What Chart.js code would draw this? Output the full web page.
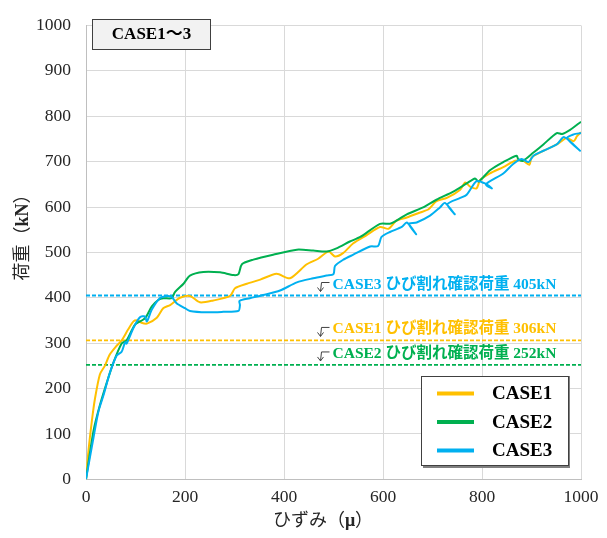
<!DOCTYPE html>
<html>
<head>
<meta charset="utf-8">
<script src="https://cdn.jsdelivr.net/npm/chart.js@4/dist/chart.umd.min.js"></script>
<style>
  html, body { margin: 0; padding: 0; background: #fff; }
  #wrap { width: 607px; height: 538px; }
</style>
</head>
<body>
<div id="wrap"><canvas id="myChart" width="607" height="538"></canvas></div>
<script>
// strain (μ) / load (kN)
const strainCase1 = [0, 5, 12, 18, 28, 38, 48, 60, 72, 85, 96, 104, 112, 123, 143, 156, 170, 190, 210, 230, 257, 291, 301, 325, 352, 385, 412, 446, 469, 490, 503, 520, 540, 567, 594, 611, 627, 648, 675, 692, 708, 729, 756, 766, 776, 789, 796, 816, 843, 867, 883, 896, 900, 917, 951, 971, 985, 992, 1000];
const loadCase1   = [0, 63, 130, 177, 231, 250, 275, 292, 306, 330, 348, 350, 345, 343, 356, 377, 384, 400, 404, 390, 394, 404, 421, 431, 440, 453, 443, 474, 486, 502, 491, 499, 520, 538, 556, 552, 570, 577, 588, 595, 613, 620, 638, 654, 645, 641, 659, 674, 688, 702, 702, 693, 709, 720, 738, 752, 745, 756, 765];

const strainCase2 = [0, 15, 28, 42, 55, 72, 82, 99, 116, 122, 133, 146, 156, 173, 180, 197, 210, 237, 271, 298, 308, 315, 338, 378, 426, 459, 486, 506, 533, 554, 594, 614, 621, 648, 681, 708, 742, 769, 786, 793, 816, 843, 870, 873, 883, 904, 924, 951, 962, 978, 1000];
const loadCase2   = [0, 106, 163, 213, 256, 299, 306, 341, 352, 359, 381, 395, 399, 399, 413, 431, 449, 457, 456, 450, 452, 474, 484, 495, 506, 504, 502, 509, 524, 534, 563, 563, 566, 584, 599, 616, 634, 652, 663, 656, 681, 699, 713, 706, 702, 720, 738, 763, 761, 770, 788];

const strainCase3 = [0, 15, 25, 35, 48, 62, 72, 79, 82, 96, 109, 119, 123, 133, 149, 163, 173, 183, 200, 210, 244, 277, 308, 311, 310, 331, 358, 392, 426, 459, 486, 500, 503, 520, 540, 574, 590, 597, 614, 638, 648, 667, 652, 668, 695, 715, 725, 745, 730, 756, 769, 789, 806, 820, 808, 843, 863, 880, 894, 904, 924, 951, 966, 998, 972, 985, 1000];
const loadCase3   = [0, 91, 149, 184, 234, 273, 281, 302, 299, 334, 357, 359, 348, 374, 399, 404, 402, 388, 377, 371, 368, 369, 371, 384, 393, 399, 406, 416, 434, 443, 449, 452, 470, 484, 495, 513, 514, 534, 545, 556, 566, 540, 563, 566, 581, 599, 609, 584, 606, 620, 627, 657, 652, 641, 650, 674, 695, 706, 699, 713, 724, 738, 754, 724, 752, 760, 763];

const caseNames  = ['CASE1', 'CASE2', 'CASE3'];
const caseColors = ['#FFC000', '#00B050', '#00B0F0'];
const crackLoads  = [306, 252, 405];
const crackLabels = ['CASE1 ひび割れ確認荷重 306kN', 'CASE2 ひび割れ確認荷重 252kN', 'CASE3 ひび割れ確認荷重 405kN'];
const labelStrain = 498;   // where the crack-load captions start

const serif = "'Liberation Serif', 'Noto Sans CJK JP', serif";

const toPoints = (xs, ys) => xs.map((x, i) => ({ x: x, y: ys[i] }));
const caseData = [toPoints(strainCase1, loadCase1), toPoints(strainCase2, loadCase2), toPoints(strainCase3, loadCase3)];

const datasets = [];
caseNames.forEach((name, i) => {
    datasets.push({
        label: name,
        data: caseData[i],
        borderColor: caseColors[i],
        backgroundColor: caseColors[i],
        borderWidth: 2,
        pointRadius: 0,
        showLine: true,
        tension: 0.25,
        order: 3 - i,
        isCase: true
    });
});
crackLoads.forEach((v, i) => {
    datasets.push({
        label: crackLabels[i],
        data: [{ x: 0, y: v }, { x: 1000, y: v }],
        borderColor: caseColors[i],
        borderWidth: 1.8,
        borderDash: [4, 2],
        pointRadius: 0,
        showLine: true,
        order: 5
    });
});

const decor = {
    id: 'decor',
    afterDraw(chart) {
        const ctx = chart.ctx;
        const xs = chart.scales.x, ys = chart.scales.y;
        ctx.save();

        // crack-load captions with little leader arrows
        crackLoads.forEach((v, i) => {
            const yLine = ys.getPixelForValue(v);
            const x0 = xs.getPixelForValue(labelStrain);
            ctx.strokeStyle = '#404040';
            ctx.lineWidth = 1;
            ctx.beginPath();
            ctx.moveTo(x0 - 3, yLine - 13);
            ctx.lineTo(x0 - 11, yLine - 13);
            ctx.lineTo(x0 - 12, yLine - 4);
            ctx.moveTo(x0 - 15, yLine - 8);
            ctx.lineTo(x0 - 12, yLine - 4);
            ctx.lineTo(x0 - 9, yLine - 8);
            ctx.stroke();
            ctx.fillStyle = caseColors[i];
            ctx.font = 'bold 15.5px ' + serif;
            ctx.textAlign = 'left';
            ctx.textBaseline = 'middle';
            ctx.fillText(crackLabels[i], x0, yLine - 11);
        });

        // title box
        ctx.fillStyle = '#f2f2f2';
        ctx.fillRect(92.5, 19.5, 118, 30);
        ctx.strokeStyle = '#404040';
        ctx.lineWidth = 1;
        ctx.strokeRect(92.5, 19.5, 118, 30);
        ctx.fillStyle = '#000';
        ctx.font = 'bold 17px ' + serif;
        ctx.textAlign = 'center';
        ctx.textBaseline = 'middle';
        ctx.fillText('CASE1～3', 151.5, 35);

        // legend box
        ctx.fillStyle = '#808080';
        ctx.fillRect(423, 376, 147, 92);
        ctx.fillStyle = '#fff';
        ctx.fillRect(421.5, 376.5, 147, 89);
        ctx.strokeStyle = '#404040';
        ctx.strokeRect(421.5, 376.5, 147, 89);
        chart.data.datasets.filter(d => d.isCase).forEach((d, i) => {
            const y = 393.5 + i * 28.5;
            ctx.strokeStyle = d.borderColor;
            ctx.lineWidth = 4;
            ctx.beginPath();
            ctx.moveTo(437, y);
            ctx.lineTo(474, y);
            ctx.stroke();
            ctx.fillStyle = '#000';
            ctx.font = 'bold 19px ' + serif;
            ctx.textAlign = 'left';
            ctx.textBaseline = 'middle';
            ctx.fillText(d.label, 492, y + 1);
        });

        // axis titles
        ctx.fillStyle = '#262626';
        ctx.textBaseline = 'middle';
        const parts = (list) => {
            let w = 0;
            list.forEach(p => { ctx.font = p[1]; w += ctx.measureText(p[0]).width; });
            return w;
        };
        const xt = [['ひずみ（', '18px ' + serif], ['μ', 'bold 18px ' + serif], ['）', '18px ' + serif]];
        let xw = parts(xt);
        let cx = 323 - xw / 2;
        ctx.textAlign = 'left';
        xt.forEach(p => { ctx.font = p[1]; ctx.fillText(p[0], cx, 521); cx += ctx.measureText(p[0]).width; });

        const yt = [['荷重（', '18px ' + serif], ['kN', 'bold 18px ' + serif], ['）', '18px ' + serif]];
        const yw = parts(yt);
        ctx.translate(23, 233);
        ctx.rotate(-Math.PI / 2);
        let cy = -yw / 2;
        yt.forEach(p => { ctx.font = p[1]; ctx.fillText(p[0], cy, 0); cy += ctx.measureText(p[0]).width; });
        ctx.restore();
    }
};

const ctx = document.querySelector('#myChart').getContext('2d');
const config = {
    type: 'scatter',
    data: { datasets: datasets },
    options: {
        responsive: false,
        animation: false,
        layout: { padding: { left: 0, right: 26, top: 12.7, bottom: 0 } },
        plugins: {
            legend: { display: false },
            title: { display: false },
            tooltip: { enabled: false }
        },
        scales: {
            x: {
                type: 'linear',
                min: 0,
                max: 1000,
                afterFit: (s) => { s.height = 58.7; },
                ticks: {
                    stepSize: 200,
                    padding: 8,
                    color: '#262626',
                    font: { family: serif, size: 17.5 },
                    maxRotation: 0,
                    callback: (v) => String(v)
                },
                grid: { color: '#d9d9d9', drawTicks: false },
                border: { color: '#bfbfbf' }
            },
            y: {
                min: 0,
                max: 1000,
                afterFit: (s) => { s.width = 86; },
                ticks: {
                    stepSize: 100,
                    padding: 15,
                    color: '#262626',
                    font: { family: serif, size: 17.5 },
                    callback: (v) => String(v)
                },
                grid: { color: '#d9d9d9', drawTicks: false },
                border: { color: '#bfbfbf' }
            }
        }
    },
    plugins: [decor]
};
new Chart(ctx, config);
</script>
</body>
</html>
